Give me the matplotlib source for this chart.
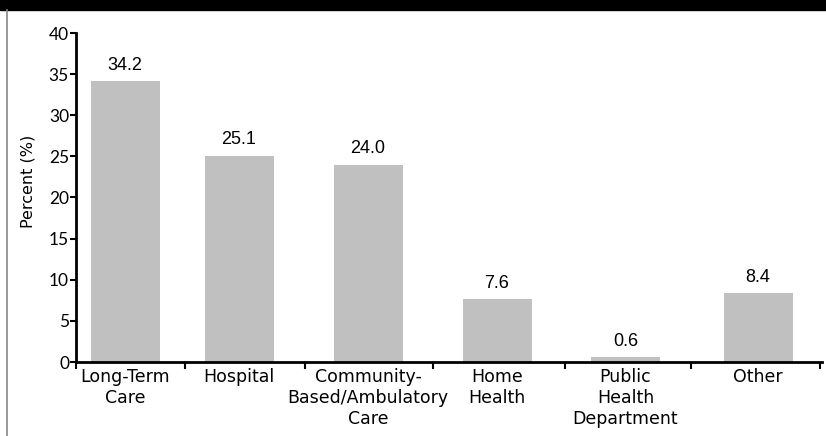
import matplotlib
matplotlib.use("Agg")
import matplotlib.pyplot as plt
from matplotlib.patches import Rectangle
from matplotlib.lines import Line2D

categories = ["Long-Term\nCare", "Hospital", "Community-\nBased/Ambulatory\nCare",
              "Home\nHealth", "Public\nHealth\nDepartment", "Other"]
values = [34.2, 25.1, 24.0, 7.6, 0.6, 8.4]
value_labels = ["34.2", "25.1", "24.0", "7.6", "0.6", "8.4"]
yticks = [0, 5, 10, 15, 20, 25, 30, 35, 40]

# layout (pixel-like horizontal units)
edges = [76, 185, 305, 433, 565, 691, 820]
centers = [125, 239, 368, 497, 625.5, 758]
bar_w = 69

W, H = 826, 436
fig = plt.figure(figsize=(W / 100, H / 100), dpi=100)
ax = fig.add_axes([76 / W, 1 - 362 / H, (822 - 76) / W, (362 - 33) / H])

ax.bar(centers, values, width=bar_w, color="#c0c0c0", zorder=2)
for c, v, t in zip(centers, values, value_labels):
    ax.annotate(t, (c, v), xytext=(0, 8), textcoords="offset points",
                ha="center", va="baseline", fontsize=13,
                family=["Liberation Sans", "DejaVu Sans"])

ax.set_xlim(76, 822)
ax.set_ylim(0, 40)
ax.set_yticks(yticks)
ax.set_yticklabels([str(y) for y in yticks], family=["Lato", "DejaVu Sans"], fontsize=12.5)
ax.tick_params(axis="y", direction="out", length=4, width=1.5, pad=1)
ax.set_xticks(edges)
ax.set_xticklabels([""] * len(edges))
ax.tick_params(axis="x", direction="out", length=5, width=1.5)
for c, lab in zip(centers, categories):
    ax.text(c, -0.75, lab, ha="center", va="top", fontsize=12.5, linespacing=1.22,
            family=["DejaVu Sans"], transform=ax.transData)

for s in ["top", "right"]:
    ax.spines[s].set_visible(False)
ax.spines["left"].set_linewidth(2)
ax.spines["bottom"].set_linewidth(2)

fig.text(28 / W, 1 - 181.5 / H, "Percent (%)", rotation=90, ha="center", va="center",
         fontsize=11.5, family=["DejaVu Sans"])

# header band and frame line
fig.patches.append(Rectangle((0, 1 - 10 / H), 1, 10 / H, transform=fig.transFigure,
                             color="black", zorder=0))
fig.lines.append(Line2D([7 / W, 7 / W], [0, 1 - 10 / H], transform=fig.transFigure,
                        color="#888888", lw=1.2))

fig.savefig("out.png", dpi=100)
